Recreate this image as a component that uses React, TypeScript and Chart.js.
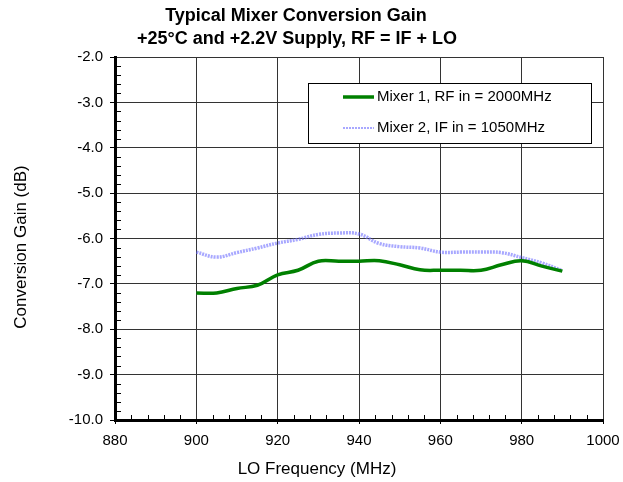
import React, { useEffect, useRef } from "react";
import { Chart, registerables } from "chart.js";

Chart.register(...registerables);

const TITLE_LINES = ["Typical Mixer Conversion Gain", "+25°C and +2.2V Supply, RF = IF + LO"];
const X_TITLE = "LO Frequency (MHz)";
const Y_TITLE = "Conversion Gain (dB)";
const SERIES_LABELS = ["Mixer 1, RF in = 2000MHz", "Mixer 2, IF in = 1050MHz"];

const LO_FREQ_MHZ = [900, 905, 910, 915, 920, 925, 930, 935, 940, 945, 950, 955, 960, 965, 970, 975, 980, 985, 990];
const MIXER1_GAIN = [-7.2, -7.2, -7.1, -7.03, -6.8, -6.7, -6.5, -6.5, -6.5, -6.49, -6.58, -6.69, -6.7, -6.7, -6.7, -6.58, -6.49, -6.61, -6.72];
const MIXER2_GAIN = [-6.3, -6.41, -6.31, -6.21, -6.1, -6.02, -5.91, -5.88, -5.9, -6.11, -6.18, -6.21, -6.3, -6.3, -6.3, -6.31, -6.42, -6.54, -6.71];

const X_MIN = 880;
const X_MAX = 1000;
const X_STEP = 20;
const X_MINOR = 4;
const Y_MIN = -10;
const Y_MAX = -2;
const Y_STEP = 1;
const Y_MINOR = 0.2;

const FONT = "'Liberation Sans', Arial, sans-serif";

const decorPlugin = {
  id: "decor",
  afterDraw(chart: any) {
    const ctx = chart.ctx as CanvasRenderingContext2D;
    const area = chart.chartArea;
    const xs = chart.scales.x;
    const ys = chart.scales.y;
    ctx.save();

    // minor ticks
    ctx.strokeStyle = "#000";
    ctx.lineWidth = 1;
    ctx.beginPath();
    for (let i = 0; X_MIN + i * X_MINOR <= X_MAX + 1e-9; i++) {
      const v = X_MIN + i * X_MINOR;
      if (Math.abs(v / X_STEP - Math.round(v / X_STEP)) < 1e-6) continue;
      const px = Math.round(xs.getPixelForValue(v)) + 0.5;
      ctx.moveTo(px, area.bottom);
      ctx.lineTo(px, area.bottom - 5);
    }
    const nY = Math.round((Y_MAX - Y_MIN) / Y_MINOR);
    for (let i = 0; i <= nY; i++) {
      const v = Y_MIN + i * Y_MINOR;
      if (Math.abs(v / Y_STEP - Math.round(v / Y_STEP)) < 1e-6) continue;
      const py = Math.round(ys.getPixelForValue(v)) + 0.5;
      ctx.moveTo(area.left, py);
      ctx.lineTo(area.left + 6, py);
    }
    ctx.stroke();

    // titles
    ctx.fillStyle = "#000";
    ctx.textAlign = "center";
    ctx.textBaseline = "alphabetic";
    ctx.font = `bold 18px ${FONT}`;
    ctx.fillText(TITLE_LINES[0], 296, 21);
    ctx.fillText(TITLE_LINES[1], 297, 44);

    ctx.font = `17px ${FONT}`;
    ctx.fillText(X_TITLE, 317, 474);
    ctx.save();
    ctx.translate(21, 247);
    ctx.rotate(-Math.PI / 2);
    ctx.textBaseline = "middle";
    ctx.fillText(Y_TITLE, 0, 0);
    ctx.restore();

    // legend
    const bx = 308.5, by = 83.5, bw = 283, bh = 60;
    ctx.fillStyle = "#fff";
    ctx.fillRect(bx, by, bw, bh);
    ctx.strokeStyle = "#000";
    ctx.lineWidth = 1;
    ctx.strokeRect(bx, by, bw, bh);
    const rows = [97, 128];
    chart.data.datasets.forEach((ds: any, i: number) => {
      const y = rows[i];
      ctx.save();
      ctx.strokeStyle = ds.borderColor;
      ctx.lineWidth = i === 0 ? ds.borderWidth : 2;
      ctx.setLineDash(ds.borderDash || []);
      ctx.beginPath();
      ctx.moveTo(343, y);
      ctx.lineTo(374, y);
      ctx.stroke();
      ctx.restore();
      ctx.fillStyle = "#000";
      ctx.font = `15px ${FONT}`;
      ctx.textAlign = "left";
      ctx.textBaseline = "middle";
      ctx.fillText(ds.label, 377, y);
    });

    ctx.restore();
  },
};

export default function App() {
  const ref = useRef<HTMLCanvasElement>(null);

  useEffect(() => {
    if (!ref.current) return;
    const chart = new Chart(ref.current, {
      type: "line",
      data: {
        datasets: [
          {
            label: SERIES_LABELS[0],
            data: LO_FREQ_MHZ.map((x, i) => ({ x, y: MIXER1_GAIN[i] })),
            borderColor: "#008000",
            borderWidth: 3.5,
            pointRadius: 0,
            tension: 0.4,
            fill: false,
          },
          {
            label: SERIES_LABELS[1],
            data: LO_FREQ_MHZ.map((x, i) => ({ x, y: MIXER2_GAIN[i] })),
            borderColor: "rgba(110,110,255,0.6)",
            borderWidth: 3.5,
            borderDash: [2, 1],
            pointRadius: 0,
            tension: 0.4,
            fill: false,
          },
        ],
      },
      options: {
        responsive: false,
        animation: false,
        layout: { padding: { top: 57, right: 20, left: 0, bottom: 0 } },
        plugins: {
          legend: { display: false },
          title: { display: false },
          tooltip: { enabled: false },
        },
        scales: {
          x: {
            type: "linear",
            min: X_MIN,
            max: X_MAX,
            afterFit: (s: any) => {
              s.height = 62;
              s.paddingLeft = 0;
              s.paddingRight = 0;
            },
            ticks: {
              stepSize: X_STEP,
              color: "#000",
              font: { family: FONT, size: 15 },
              padding: 8,
              maxRotation: 0,
              callback: (v: any) => String(v),
            },
            grid: {
              color: "#333",
              lineWidth: 1,
              tickLength: 4,
              tickColor: "#000",
            },
            border: { display: true, color: "#000", width: 3 },
          },
          y: {
            type: "linear",
            min: Y_MIN,
            max: Y_MAX,
            afterFit: (s: any) => {
              s.width = 115;
              s.paddingTop = 0;
              s.paddingBottom = 0;
            },
            ticks: {
              stepSize: Y_STEP,
              color: "#000",
              font: { family: FONT, size: 15 },
              padding: 7,
              callback: (v: any) => Number(v).toFixed(1),
            },
            grid: {
              color: "#333",
              lineWidth: 1,
              tickLength: 5,
              tickColor: "#000",
            },
            border: { display: true, color: "#000", width: 3 },
          },
        },
      },
      plugins: [decorPlugin],
    });
    return () => chart.destroy();
  }, []);

  return (
    <div style={{ position: "absolute", left: 0, top: 0, width: 623, height: 482, background: "#fff" }}>
      <canvas ref={ref} width={623} height={482} />
    </div>
  );
}
